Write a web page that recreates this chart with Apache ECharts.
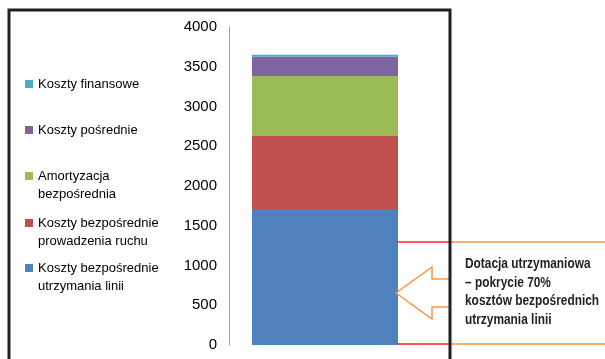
<!DOCTYPE html>
<html>
<head>
<meta charset="utf-8">
<script src="https://cdn.jsdelivr.net/npm/echarts@6/dist/echarts.min.js"></script>
<style>
  html, body { margin: 0; padding: 0; background: #fff; }
  #chart { width: 605px; height: 359px; }
</style>
</head>
<body>
<div id="chart"></div>
<script>
// data
var categories = ['']
var seriesNames = [
  'Koszty bezpośrednie\nutrzymania linii',
  'Koszty bezpośrednie\nprowadzenia ruchu',
  'Amortyzacja\nbezpośrednia',
  'Koszty pośrednie',
  'Koszty finansowe'
]
var seriesValues = [
  [1710],
  [920],
  [755],
  [240],
  [25]
]
var seriesColors = ['#4F81BD', '#C0504D', '#9BBB59', '#8064A2', '#4BACC6']
var yTicks = { min: 0, max: 4000, interval: 500 }
var noteText = 'Dotacja utrzymaniowa\n– pokrycie 70%\nkosztów bezpośrednich\nutrzymania linii'

// legend slots: top offsets, first one is the top item
var legendTops = [74.75, 120.75, 166.75, 213.75, 258.75]
var squareIcon = 'path://M0 0h8v8h-8z'
var tallIcon = 'path://M0 0h8v8h-8zM0 26.4h0.1v0.1h-0.1z'

var chart = echarts.init(document.getElementById('chart'))

var legends = []
for (var i = 0; i < seriesNames.length; i++) {
  var name = seriesNames[seriesNames.length - 1 - i]
  var twoLines = name.indexOf('\n') >= 0
  legends.push({
    data: [name],
    left: 25,
    top: legendTops[i],
    padding: 0,
    orient: 'vertical',
    selectedMode: false,
    icon: twoLines ? tallIcon : squareIcon,
    itemWidth: 8,
    itemHeight: twoLines ? 26.5 : 8,
    textStyle: {
      fontFamily: 'Liberation Sans, Arial, sans-serif',
      fontSize: 13,
      lineHeight: 18.5,
      color: '#000'
    }
  })
}

var series = seriesNames.map(function (n, idx) {
  return {
    name: n,
    type: 'bar',
    stack: 'total',
    barWidth: 146,
    itemStyle: { color: seriesColors[idx] },
    emphasis: { disabled: true },
    data: seriesValues[idx]
  }
})

chart.setOption({
  animation: false,
  backgroundColor: '#fff',
  legend: legends,
  grid: {
    left: 229,
    right: 184,
    top: 27,
    bottom: 14
  },
  xAxis: {
    type: 'category',
    data: categories,
    axisLine: { show: false },
    axisTick: { show: false },
    axisLabel: { show: false }
  },
  yAxis: {
    type: 'value',
    min: yTicks.min,
    max: yTicks.max,
    interval: yTicks.interval,
    axisLine: { show: true, lineStyle: { color: '#A0A0A0', width: 1 } },
    axisTick: { show: false },
    splitLine: { show: false },
    axisLabel: {
      margin: 12,
      formatter: function (v) { return String(v) },
      fontFamily: 'Liberation Sans, Arial, sans-serif',
      fontSize: 15,
      color: '#000'
    }
  },
  series: series,
  graphic: [
    {
      type: 'line',
      z: 100,
      shape: { x1: 397, y1: 242, x2: 450, y2: 242 },
      style: { stroke: '#FF2020', lineWidth: 1.5 }
    },
    {
      type: 'line',
      z: 100,
      shape: { x1: 397, y1: 344, x2: 450, y2: 344 },
      style: { stroke: '#FF2020', lineWidth: 1.5 }
    },
    {
      type: 'polyline',
      z: 100,
      shape: {
        points: [[606, 242], [450, 242], [450, 279], [432, 279], [432, 267], [396, 293],
          [432, 319], [432, 307], [450, 307], [450, 344], [606, 344]]
      },
      style: { stroke: '#F79646', lineWidth: 1.5, fill: null }
    },
    {
      // narrow bold face is not installed, so squeeze the regular bold one
      type: 'text',
      z: 101,
      x: 465,
      y: 254.5,
      scaleX: 0.82,
      style: {
        text: noteText,
        font: 'bold 14.5px "Liberation Sans", Arial, sans-serif',
        lineHeight: 18.7,
        fill: '#231F20',
        verticalAlign: 'top'
      }
    },
    {
      type: 'rect',
      z: 102,
      shape: { x: 9, y: 10, width: 441, height: 380 },
      style: { stroke: '#231F20', lineWidth: 3, fill: null }
    }
  ]
})
</script>
</body>
</html>
